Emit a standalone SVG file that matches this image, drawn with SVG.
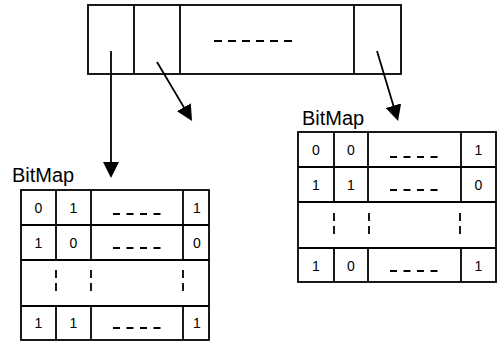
<svg xmlns="http://www.w3.org/2000/svg" width="503" height="343" viewBox="0 0 503 343">
<style>
.ln{stroke:#000;stroke-width:1.8;fill:none}
.dash{stroke:#000;stroke-width:1.8;fill:none;stroke-dasharray:7 6.5}
.vd{stroke:#000;stroke-width:1.8;fill:none;stroke-dasharray:8 5}
.cell{font-family:"Liberation Sans",Arial,sans-serif;font-size:14px;text-anchor:middle;fill:#000}
.lbl{font-family:"Liberation Sans",Arial,sans-serif;font-size:20px;fill:#000}
</style>
<defs>
<marker id="ah" viewBox="0 0 16 16" refX="12" refY="8" markerWidth="16" markerHeight="16" markerUnits="userSpaceOnUse" orient="auto">
<path d="M0,0 L16,8 L0,16 z" fill="#000"/>
</marker>
</defs>
<rect width="503" height="343" fill="#fff"/>
<g id="array">
<rect class="ln" x="88" y="5" width="313" height="69"/>
<line class="ln" x1="134" y1="5" x2="134" y2="74"/>
<line class="ln" x1="180" y1="5" x2="180" y2="74"/>
<line class="ln" x1="354" y1="5" x2="354" y2="74"/>
<line class="ln" x1="214" y1="41" x2="292" y2="41" style="stroke-dasharray:8 6"/>
</g>
<g id="connectors">
<line class="ln" x1="111" y1="51" x2="111" y2="174" marker-end="url(#ah)"/>
<line class="ln" x1="157" y1="62" x2="190" y2="117.6" marker-end="url(#ah)"/>
<line class="ln" x1="377" y1="51" x2="396.9" y2="117.2" marker-end="url(#ah)"/>
</g>
<g id="bitmap-left">
<text class="lbl" x="12" y="182">BitMap</text>
<rect class="ln" x="21" y="190" width="188" height="150"/>
<line class="ln" x1="21" y1="225" x2="209" y2="225"/>
<line class="ln" x1="21" y1="260" x2="209" y2="260"/>
<line class="ln" x1="21" y1="306" x2="209" y2="306"/>
<line class="ln" x1="56" y1="190" x2="56" y2="260"/>
<line class="ln" x1="91" y1="190" x2="91" y2="260"/>
<line class="ln" x1="183" y1="190" x2="183" y2="260"/>
<line class="ln" x1="56" y1="306" x2="56" y2="340"/>
<line class="ln" x1="91" y1="306" x2="91" y2="340"/>
<line class="ln" x1="183" y1="306" x2="183" y2="340"/>
<line class="vd" x1="56" y1="270" x2="56" y2="291"/>
<line class="vd" x1="91" y1="270" x2="91" y2="291"/>
<line class="vd" x1="183" y1="270" x2="183" y2="291"/>
<line class="dash" x1="113" y1="214" x2="161" y2="214"/>
<line class="dash" x1="113" y1="248" x2="161" y2="248"/>
<line class="dash" x1="113" y1="328" x2="161" y2="328"/>
<text class="cell" x="38.5" y="212.5">0</text>
<text class="cell" x="73.5" y="212.5">1</text>
<text class="cell" x="197" y="212.5">1</text>
<text class="cell" x="38.5" y="247.5">1</text>
<text class="cell" x="73.5" y="247.5">0</text>
<text class="cell" x="197" y="247.5">0</text>
<text class="cell" x="38.5" y="328">1</text>
<text class="cell" x="73.5" y="328">1</text>
<text class="cell" x="197" y="328">1</text>
</g>
<g id="bitmap-right">
<text class="lbl" x="302" y="125">BitMap</text>
<rect class="ln" x="298" y="132" width="198" height="150"/>
<line class="ln" x1="298" y1="167" x2="496" y2="167"/>
<line class="ln" x1="298" y1="202" x2="496" y2="202"/>
<line class="ln" x1="298" y1="248" x2="496" y2="248"/>
<line class="ln" x1="334" y1="132" x2="334" y2="202"/>
<line class="ln" x1="368" y1="132" x2="368" y2="202"/>
<line class="ln" x1="461" y1="132" x2="461" y2="202"/>
<line class="ln" x1="334" y1="248" x2="334" y2="282"/>
<line class="ln" x1="368" y1="248" x2="368" y2="282"/>
<line class="ln" x1="461" y1="248" x2="461" y2="282"/>
<line class="vd" x1="334" y1="213" x2="334" y2="234"/>
<line class="vd" x1="369" y1="213" x2="369" y2="234"/>
<line class="vd" x1="460" y1="213" x2="460" y2="234"/>
<line class="dash" x1="390" y1="157" x2="438" y2="157"/>
<line class="dash" x1="390" y1="190" x2="438" y2="190"/>
<line class="dash" x1="390" y1="271" x2="438" y2="271"/>
<text class="cell" x="316" y="154.5">0</text>
<text class="cell" x="351" y="154.5">0</text>
<text class="cell" x="478.5" y="154.5">1</text>
<text class="cell" x="316" y="189.5">1</text>
<text class="cell" x="351" y="189.5">1</text>
<text class="cell" x="478.5" y="189.5">0</text>
<text class="cell" x="316" y="270.5">1</text>
<text class="cell" x="351" y="270.5">0</text>
<text class="cell" x="478.5" y="270.5">1</text>
</g>
</svg>
